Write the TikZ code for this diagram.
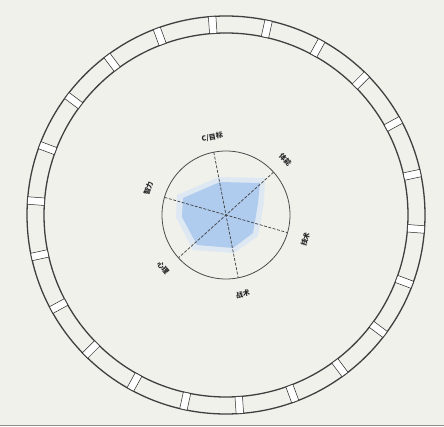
\documentclass[tikz,border=0pt]{standalone}
\usepackage{fontspec}
\usetikzlibrary{calc}
\newfontfamily\cjkfont{Noto Sans CJK SC}
\begin{document}
\begin{tikzpicture}[x=1pt,y=1pt,
  ringline/.style={draw=black!75, line width=1.3pt},
  tabbox/.style={draw=black!85, fill=white, line width=0.5pt, minimum width=17pt, minimum height=7.5pt, inner sep=0pt, rectangle},
  axisline/.style={draw=black!75, line width=0.7pt, dash pattern=on 3pt off 1.5pt},
  radarrim/.style={draw=black!70, line width=0.8pt},
  lbl/.style={font=\cjkfont\bfseries\fontsize{7}{7}\selectfont, text=black!85, inner sep=0pt}]
\definecolor{bgc}{HTML}{F0F1EB}
\definecolor{bluefill}{HTML}{AFCBEE}
\definecolor{halofill}{HTML}{DEE8F3}
\useasboundingbox (0,0) rectangle (444,426);
\fill[bgc] (0,0) rectangle (444,426);
\draw[black!45, line width=1.5pt] (0,0.75) -- (444,0.75);
\coordinate (C) at (226,211);
% outer ring
\draw[ringline] (C) circle[radius=199];
\draw[ringline] (C) circle[radius=182];
\foreach \k in {0,...,21}{
  \pgfmathsetmacro{\ang}{94+\k*360/22}
  \node[tabbox, rotate=\ang] (tab\k) at ($(C)+(\ang:190.5)$) {};
}
% radar
\fill[halofill] ($(C)+(-49,20)$) -- ($(C)+(-7,38)$) -- ($(C)+(39,37)$) -- ($(C)+(38,13)$) -- ($(C)+(32,-21)$) -- ($(C)+(8,-38)$) -- ($(C)+(-33,-35)$) -- ($(C)+(-50,-2)$) -- cycle;
\fill[bluefill] ($(C)+(-43,17)$) -- ($(C)+(-6,33)$) -- ($(C)+(34,32)$) -- ($(C)+(32,12)$) -- ($(C)+(27,-18)$) -- ($(C)+(7,-33)$) -- ($(C)+(-29,-30)$) -- ($(C)+(-44,-2)$) -- cycle;
\foreach \a in {101,164,42}{
  \draw[axisline] ($(C)+(\a:64)$) -- ($(C)+(\a+180:64)$);
}
\draw[radarrim] (C) circle[radius=64];
\node[lbl, rotate=10] (l1) at ($(C)+(100:79)$) {C/目标};
\node[lbl, rotate=-47] (l2) at ($(C)+(43:81)$) {体能};
\node[lbl, rotate=73] (l3) at ($(C)+(-17:83)$) {技术};
\node[lbl, rotate=12] (l4) at ($(C)+(-78:81)$) {战术};
\node[lbl, rotate=-50] (l5) at ($(C)+(220:82)$) {心理};
\node[lbl, rotate=71] (l6) at ($(C)+(161:82)$) {智力};
\end{tikzpicture}
\end{document}
